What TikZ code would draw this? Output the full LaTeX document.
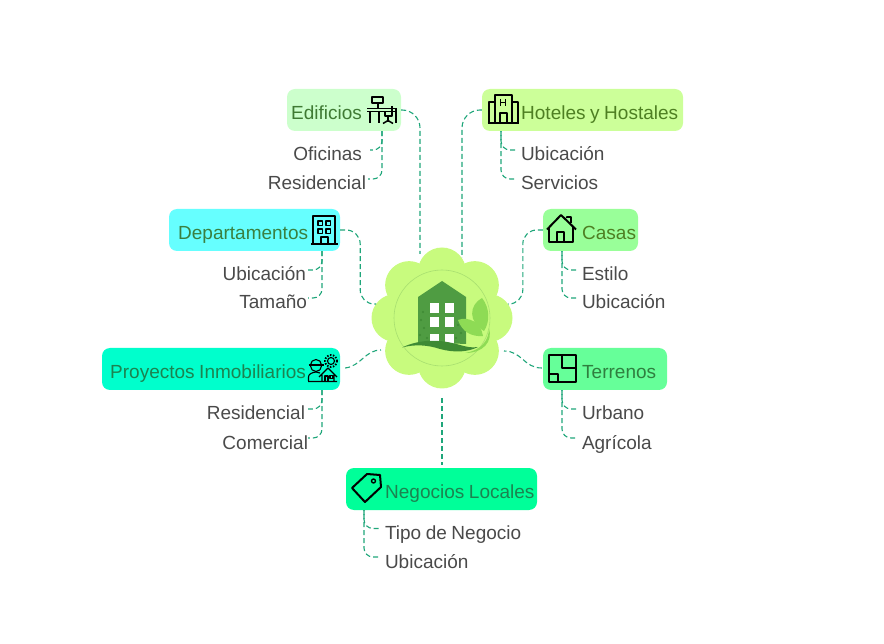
\documentclass[tikz,border=0pt]{standalone}
\usepackage{fontspec}
\setmainfont{Liberation Sans}
\usepackage{xcolor}
\definecolor{petal}{HTML}{C8FB7E}
\definecolor{ring}{HTML}{A8DF70}
\definecolor{wall}{HTML}{4F9C42}
\definecolor{swoosh}{HTML}{3E8A34}
\definecolor{leaf}{HTML}{8EDB55}
\definecolor{linkcol}{HTML}{1FA67A}
\definecolor{subcol}{HTML}{4A4A4A}
\definecolor{boxedi}{HTML}{CCFFCC}
\definecolor{boxhot}{HTML}{CCFF99}
\definecolor{boxdep}{HTML}{66FFFF}
\definecolor{boxcas}{HTML}{99FF99}
\definecolor{boxpro}{HTML}{00FFCC}
\definecolor{boxter}{HTML}{66FF99}
\definecolor{boxneg}{HTML}{00FF99}
\definecolor{textA}{HTML}{3F7A33}
\definecolor{textB}{HTML}{4E7F22}
\definecolor{textC}{HTML}{3A8040}
\definecolor{textD}{HTML}{1C8350}
\definecolor{textE}{HTML}{2F7F3F}
\newcommand{\labelfont}{\fontsize{19}{20}\selectfont\spaceskip=0.24em\relax}
\tikzset{
	box/.style={fill=#1,rounded corners=8pt,minimum height=42pt,inner sep=0pt},
	title/.style={text=#1,font=\labelfont,inner sep=0pt},
	sub/.style={text=subcol,font=\labelfont,inner sep=0pt,text height=22pt,text depth=0pt,outer sep=0pt},
	link/.style={draw=linkcol,line width=1.1pt,dash pattern=on 5pt off 3pt,rounded corners=#1},
	link/.default=14pt,
	link2/.style={link=9pt,dash phase=4pt},
	icon/.style={draw=black,line width=2pt,line join=round},
	thinicon/.style={draw=black,line width=1.1pt,line join=round},
}
\begin{document}
\begin{tikzpicture}[x=1pt,y=-1pt]
	\useasboundingbox (0,0) rectangle (884,644);
	%flower
	\foreach \a in {0,45,...,315}
		\fill[petal] (442,318) ++(\a:46.5) circle (24);
	\node[circle,fill=petal,minimum size=100pt,inner sep=0pt] (hub) at (442,318) {};
	\draw[ring,line width=0.6pt] (hub) circle (48);
	\fill[wall] (418,297) -- (442,281) -- (466,297) -- (466,344) -- (418,342) -- cycle;
	\foreach \x in {430,444.7}
		\foreach \y in {302.7,317.3,334}
			\fill[white] (\x,\y) rectangle ++(9.3,10);
	\foreach \x/\y in {421/320,424/328,420/335,427/338,423/312,458/325,461/333,456/338}
		\fill[swoosh] (\x,\y) circle (1.2);
	\fill[petal] (417,345) rectangle (468,350);
	\fill[swoosh] (402,347.5) .. controls (420,339) and (440,339) .. (460,345) .. controls (467,347) and (472,348) .. (478,347) .. controls (468,352) and (455,353) .. (440,349) .. controls (428,345) and (415,344) .. (402,347.5) -- cycle;
	\fill[leaf] (465,353) .. controls (482,350) and (489,340) .. (489,328) .. controls (493,342) and (483,353) .. (465,353) -- cycle;
	\fill[leaf] (482,298) .. controls (469,305) and (468,322) .. (484,331) .. controls (490,322) and (490,308) .. (482,298) -- cycle;
	\fill[leaf] (458,320) .. controls (468,316) and (481,322) .. (483,336) .. controls (472,337) and (462,332) .. (458,320) -- cycle;
	%boxes
	\node[box=boxedi,minimum width=114pt] (edificios) at (344,110) {};
	\node[box=boxhot,minimum width=201pt] (hoteles) at (582.5,110) {};
	\node[box=boxdep,minimum width=171pt] (departamentos) at (254.5,230) {};
	\node[box=boxcas,minimum width=95pt] (casas) at (590.5,230) {};
	\node[box=boxpro,minimum width=238pt] (proyectos) at (221,369) {};
	\node[box=boxter,minimum width=124pt] (terrenos) at (605,369) {};
	\node[box=boxneg,minimum width=191pt] (negocios) at (441.5,489) {};
	%titles
	\node[title=textA,anchor=base west] (edificiost) at (291,119.5) {Edificios};
	\node[title=textB,anchor=base west] (hotelest) at (521,119.5) {Hoteles y Hostales};
	\node[title=textC,anchor=base west] (departamentost) at (178,239.5) {Departamentos};
	\node[title=textB,anchor=base west] (casast) at (582,239.5) {Casas};
	\node[title=textD,anchor=base west] (proyectost) at (110,378.5) {Proyectos Inmobiliarios};
	\node[title=textE,anchor=base west] (terrenost) at (582,378.5) {Terrenos};
	\node[title=textD,anchor=base west] (negociost) at (385,498.5) {Negocios Locales};
	%leaves
	\node[sub,anchor=base east] (oficinas) at (362,161) {Oficinas};
	\node[sub,anchor=base east] (residencial) at (366,190) {Residencial};
	\node[sub,anchor=base west] (ubicacionh) at (521,161) {Ubicación};
	\node[sub,anchor=base west] (servicios) at (521,190) {Servicios};
	\node[sub,anchor=base east] (ubicaciond) at (306,281) {Ubicación};
	\node[sub,anchor=base east] (tamano) at (307,309) {Tamaño};
	\node[sub,anchor=base west] (estilo) at (582,281) {Estilo};
	\node[sub,anchor=base west] (ubicacionc) at (582,309) {Ubicación};
	\node[sub,anchor=base east] (residencialp) at (305,420) {Residencial};
	\node[sub,anchor=base east] (comercial) at (308,449) {Comercial};
	\node[sub,anchor=base west] (urbano) at (582,420) {Urbano};
	\node[sub,anchor=base west] (agricola) at (582,449) {Agrícola};
	\node[sub,anchor=base west] (tipo) at (385,539.5) {Tipo de Negocio};
	\node[sub,anchor=base west] (ubicacionn) at (385,568) {Ubicación};
	%free ends at the flower
	\coordinate (hubA) at (420,254);
	\coordinate (hubB) at (462,258);
	\coordinate (hubC) at (376,304);
	\coordinate (hubD) at (508,304);
	\coordinate (hubE) at (381,350);
	\coordinate (hubF) at (504,351);
	\coordinate (hubG) at (442,398);
	%main links
	\draw[link=18pt] (edificios.east) -| (hubA);
	\draw[link=18pt] (hoteles.west) -| (hubB);
	\draw[link=14pt] (departamentos.east) -- ++(20,0) |- (hubC);
	\draw[link=14pt] (casas.west) -- ++(-20,0) |- (hubD);
	\draw[link=0pt] (proyectos.east) ++(5,-1) .. controls +(16,-2) and +(-16,0) .. (hubE);
	\draw[link=0pt] (terrenos.west) ++(-1,-1) .. controls +(-18,0) and +(18,0) .. (hubF);
	\draw[link=0pt] (hubG) -- ([yshift=3pt]hubG |- negocios.north);
	%leaf links
	\draw[link=9pt] (edificios.south -| 382,0) |- ([xshift=8pt]oficinas.east);
	\draw[link=9pt] (edificios.south -| 382,0) |- ([xshift=2pt]residencial.east);
	\draw[link=9pt] (hoteles.south -| 501,0) |- ([xshift=-4pt]ubicacionh.west);
	\draw[link2] (hoteles.south -| 501,0) |- ([xshift=-4pt]servicios.west);
	\draw[link=9pt] (departamentos.south -| 322,0) |- ([xshift=2pt]ubicaciond.east);
	\draw[link=9pt] (departamentos.south -| 322,0) |- ([xshift=1pt]tamano.east);
	\draw[link=9pt] (casas.south -| 562,0) |- ([xshift=-5pt]estilo.west);
	\draw[link2] (casas.south -| 562,0) |- ([xshift=-5pt]ubicacionc.west);
	\draw[link=9pt] (proyectos.south -| 322,0) |- ([xshift=3pt]residencialp.east);
	\draw[link=9pt] (proyectos.south -| 322,0) |- (comercial.east);
	\draw[link=9pt] (terrenos.south -| 562,0) |- ([xshift=-5pt]urbano.west);
	\draw[link2] (terrenos.south -| 562,0) |- ([xshift=-5pt]agricola.west);
	\draw[link=9pt] (negocios.south -| 364,0) |- ([xshift=-5pt]tipo.west);
	\draw[link2] (negocios.south -| 364,0) |- ([xshift=-5pt]ubicacionn.west);
	%icon edificios
	\draw[icon] (372,97) rectangle (383,103.5) (377.5,103.5) -- (377.5,108);
	\draw[icon,line width=1.5pt] (367,108.5) -- (396.5,108.5) (367,111.5) -- (396.5,111.5);
	\draw[icon,line width=1.6pt] (370,111) -- (370,123.5) (379,111) -- (379,123.5) (396,108) -- (396,123.5);
	\draw[icon] (392,106) -- (392,116.5) -- (385,116.5) -- (385,112) (388,117) -- (388,122);
	\draw[icon,line width=1.5pt] (383,123.5) -- (388,120.5) -- (393,123.5);
	%icon hoteles
	\draw[icon] (495,123) -- (495,95) -- (512,95) -- (512,123);
	\draw[icon] (488.5,123) -- (488.5,102) -- (495,102) (512,102) -- (517.5,102) -- (517.5,123);
	\draw[icon] (487.5,123) -- (518.5,123);
	\draw[icon] (500,123) -- (500,113) -- (507,113) -- (507,123);
	\draw[thinicon,line width=1.4pt] (500.5,99.5) -- (500.5,106) (505.5,99.5) -- (505.5,106) (500.5,102.7) -- (505.5,102.7);
	%icon departamentos
	\draw[icon] (313,244) -- (313,216) -- (335,216) -- (335,244);
	\draw[icon] (311,244) -- (338,244);
	\foreach \x in {318,326}
		\foreach \y in {221,229}
			\draw[thinicon,line width=1.4pt] (\x,\y) rectangle ++(4.5,4.5);
	\draw[icon] (321,244) -- (321,237) -- (328,237) -- (328,244);
	%icon casas
	\draw[icon] (547,229.5) -- (561,215) -- (576,229.5);
	\draw[icon] (549,227) -- (549,242.5) -- (573,242.5) -- (573,227);
	\draw[icon] (557,242.5) -- (557,232) -- (564,232) -- (564,242.5);
	\draw[thinicon,line width=1.5pt] (567,218.5) -- (567,217) -- (571,217) -- (571,223);
	%icon proyectos
	\draw[thinicon] (316,366) circle (5.5);
	\draw[thinicon,fill=boxpro] (310.5,365) arc (180:360:5.5) -- cycle;
	\draw[thinicon] (308.5,365) -- (323.5,365);
	\draw[thinicon] (308.5,381) -- (308.5,377) .. controls (308.5,374) and (312,372.5) .. (316,372) -- (320,373);
	\draw[thinicon] (308,381.5) -- (337,381.5) (319,377) -- (328,368) -- (337,377) (322,375) -- (322,381.5) (334,375) -- (334,381.5);
	\draw[thinicon] (325,381.5) -- (325,376) -- (328,376) -- (328,381.5) (330,375.5) rectangle (333,378.5);
	\draw[thinicon] (331,361) circle (3.5);
	\draw[line width=1.8pt,dash pattern=on 1.5pt off 1.5pt] (331,361) circle (6);
	%icon terrenos
	\draw[icon] (549,355) rectangle (576,382);
	\draw[icon] (562,355) -- (562,368) -- (576,368) (549,374) -- (558,374) -- (558,382);
	%icon negocios
	\draw[icon] (352,488) -- (367,474) -- (380,475) -- (381,487) -- (365,502) -- cycle;
	\draw[thinicon,line width=1.4pt] (373.5,481) circle (2);
\end{tikzpicture}
\end{document}
